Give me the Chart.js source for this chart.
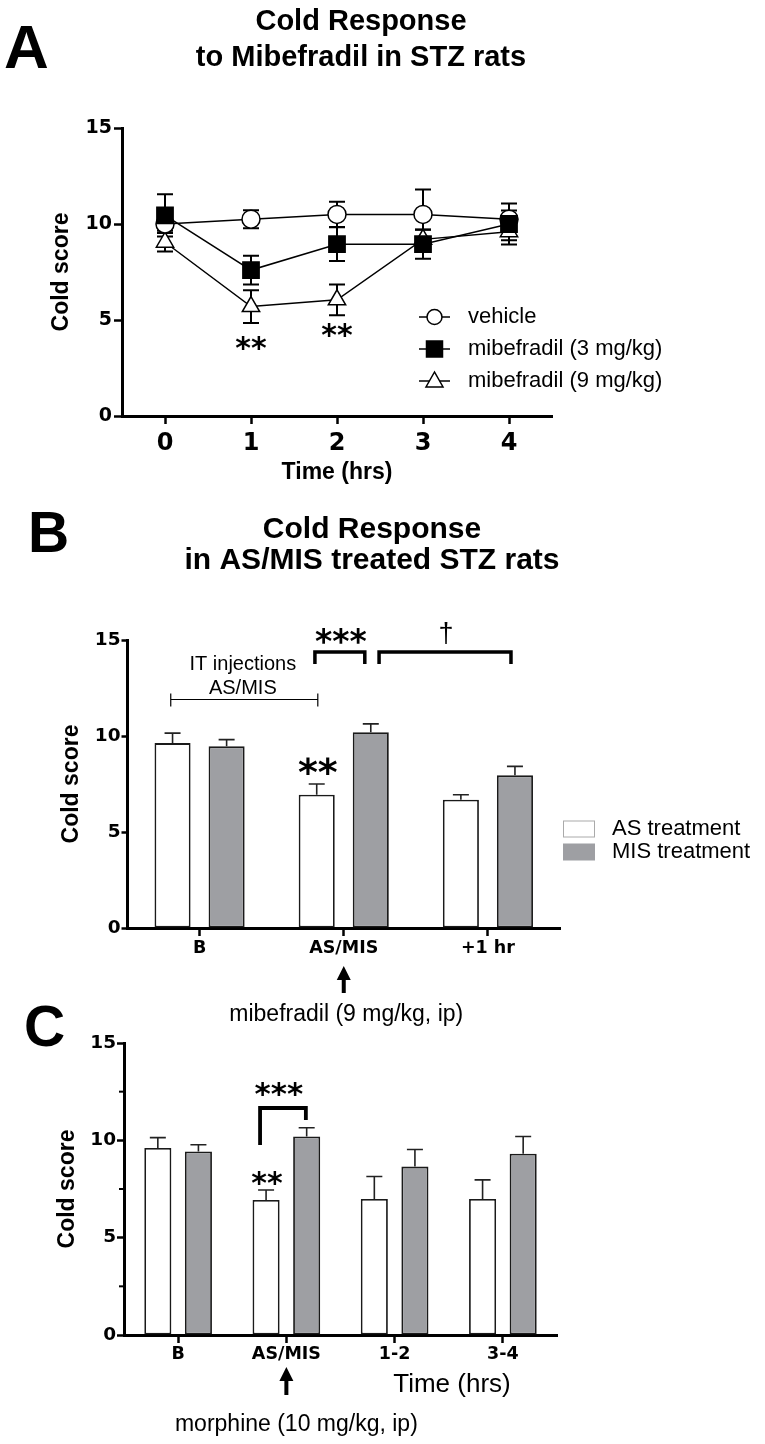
<!DOCTYPE html>
<html>
<head>
<meta charset="utf-8">
<script src="https://cdn.jsdelivr.net/npm/chart.js@4.4.1/dist/chart.umd.min.js"></script>
<style>
  html, body { margin: 0; padding: 0; background: #fff; }
  #wrap { position: relative; width: 765px; height: 1444px; overflow: hidden; }
  #wrap canvas { position: absolute; left: 0; top: 0; }
</style>
</head>
<body>
<div id="wrap">
  <canvas id="cA" width="765" height="1444"></canvas>
  <canvas id="cB" width="765" height="1444"></canvas>
  <canvas id="cC" width="765" height="1444"></canvas>
</div>
<script>
// ---------------- DATA ----------------
// Panel A: cold score over time (mean ± SEM)
const timeHours   = [0, 1, 2, 3, 4];
const vehicleMean = [10.0, 10.25, 10.5, 10.5, 10.25];
const vehicleSem  = [0.35, 0.47, 0.66, 1.3, 0.45];
const mib3Mean    = [10.45, 7.6, 8.95, 8.95, 10.0];
const mib3Sem     = [1.1, 0.75, 0.88, 0.76, 1.07];
const mib9Mean    = [9.05, 5.7, 6.05, 9.2, 9.6];
const mib9Sem     = [0.48, 0.85, 0.8, 0.5, 0.45];
const xTicksA     = [0, 1, 2, 3, 4];
const yTicks      = [0, 5, 10, 15];
const yMinorC     = [2.5, 7.5, 12.5];

// Panel B: AS / MIS treated, mibefradil
const catsB    = ['B', 'AS/MIS', '+1 hr'];
const asMeanB  = [9.63, 6.94, 6.68];
const asSemB   = [0.52, 0.56, 0.26];
const misMeanB = [9.46, 10.2, 7.95];
const misSemB  = [0.35, 0.43, 0.47];

// Panel C: AS / MIS treated, morphine
const catsC    = ['B', 'AS/MIS', '1-2', '3-4'];
const asMeanC  = [9.61, 6.94, 6.99, 6.99];
const asSemC   = [0.53, 0.51, 1.15, 0.98];
const misMeanC = [9.43, 10.2, 8.65, 9.31];
const misSemC  = [0.34, 0.45, 0.88, 0.89];

// ---------------- HELPERS ----------------
const FONT = '"Liberation Sans", Arial, Helvetica, sans-serif';
const TICKFONT = '"DejaVu Sans", "Liberation Sans", sans-serif';
const STARFONT = '"DejaVu Sans", "Liberation Sans", sans-serif';
const GREY = '#9e9fa3';
Chart.defaults.font.family = FONT;
Chart.defaults.color = '#000';

function text(ctx, s, x, y, size, weight, align, baseline, family) {
  ctx.save();
  ctx.font = (weight || 'normal') + ' ' + size + 'px ' + (family || FONT);
  ctx.fillStyle = '#000';
  ctx.textAlign = align || 'center';
  ctx.textBaseline = baseline || 'middle';
  ctx.fillText(s, x, y);
  ctx.restore();
}
// draw text visually centered on (x,y) using ink bounds (for asterisks, daggers)
function inkText(ctx, s, x, y, size, weight, family) {
  ctx.save();
  ctx.font = (weight || 'normal') + ' ' + size + 'px ' + (family || FONT);
  ctx.fillStyle = '#000';
  ctx.textAlign = 'center';
  ctx.textBaseline = 'alphabetic';
  const m = ctx.measureText(s);
  const by = y + (m.actualBoundingBoxAscent - m.actualBoundingBoxDescent) / 2;
  ctx.fillText(s, x, by);
  ctx.restore();
}
function rotText(ctx, s, x, y, size, weight) {
  ctx.save();
  ctx.translate(x, y);
  ctx.rotate(-Math.PI / 2);
  text(ctx, s, 0, 0, size, weight, 'center', 'middle');
  ctx.restore();
}
function arrowUp(ctx, x, tipY, baseY) {
  ctx.save();
  ctx.fillStyle = '#000';
  ctx.strokeStyle = '#000';
  ctx.lineWidth = 4;
  ctx.beginPath();
  ctx.moveTo(x, tipY + 10);
  ctx.lineTo(x, baseY);
  ctx.stroke();
  ctx.beginPath();
  ctx.moveTo(x, tipY);
  ctx.lineTo(x - 7, tipY + 14);
  ctx.lineTo(x + 7, tipY + 14);
  ctx.closePath();
  ctx.fill();
  ctx.restore();
}
function bracket(ctx, x1, x2, yTop, yLeft, yRight, lw) {
  ctx.save();
  ctx.strokeStyle = '#000';
  ctx.lineWidth = lw;
  ctx.lineJoin = 'miter';
  ctx.lineCap = 'butt';
  ctx.beginPath();
  ctx.moveTo(x1, yLeft);
  ctx.lineTo(x1, yTop);
  ctx.lineTo(x2, yTop);
  ctx.lineTo(x2, yRight);
  ctx.stroke();
  ctx.restore();
}

// error bars plugin (uses the library's y scale and element positions)
const errorBars = {
  id: 'errorBars',
  beforeDatasetsDraw(chart, args, opts) { if (opts.layer === 'below') drawErrors(chart, opts); },
  afterDatasetsDraw(chart, args, opts) { if (opts.layer === 'above') drawErrors(chart, opts); }
};
function drawErrors(chart, opts) {
  const ctx = chart.ctx, ys = chart.scales.y;
  ctx.save();
  ctx.strokeStyle = opts.color || '#000';
  ctx.lineWidth = opts.lineWidth || 1.5;
  chart.data.datasets.forEach((ds, i) => {
    const err = opts.errors[i];
    if (!err) return;
    const meta = chart.getDatasetMeta(i);
    meta.data.forEach((el, j) => {
      const raw = ds.data[j];
      const v = (typeof raw === 'object') ? raw.y : raw;
      const x = el.x;
      const yT = ys.getPixelForValue(v + err[j]);
      const yB = opts.both ? ys.getPixelForValue(v - err[j]) : ys.getPixelForValue(v);
      ctx.beginPath();
      ctx.moveTo(x, yB); ctx.lineTo(x, yT);
      ctx.moveTo(x - opts.cap, yT); ctx.lineTo(x + opts.cap, yT);
      if (opts.both) { ctx.moveTo(x - opts.cap, yB); ctx.lineTo(x + opts.cap, yB); }
      ctx.stroke();
    });
  });
  ctx.restore();
}

function axisOpts(tickLen, fontSize, pad, extra) {
  return Object.assign({
    grid: { display: true, drawOnChartArea: false, drawTicks: true, tickLength: tickLen, tickWidth: 2.5, tickColor: '#000', offset: false },
    border: { display: true, color: '#000', width: 3 },
    ticks: { color: '#000', font: { family: TICKFONT, weight: 'bold', size: fontSize }, padding: pad, maxRotation: 0, autoSkip: false }
  }, extra);
}

// ---------------- PANEL A ----------------
const annA = {
  id: 'annA',
  afterDraw(chart) {
    const ctx = chart.ctx, xs = chart.scales.x, ys = chart.scales.y, ca = chart.chartArea;
    text(ctx, 'A', 4, 68, 62, 'bold', 'left', 'alphabetic');
    text(ctx, 'Cold Response', 361, 30, 29, 'bold', 'center', 'alphabetic');
    text(ctx, 'to Mibefradil in STZ rats', 361, 66, 29, 'bold', 'center', 'alphabetic');
    rotText(ctx, 'Cold score', 62, (ca.top + ca.bottom) / 2, 23, 'bold');
    text(ctx, 'Time (hrs)', (ca.left + ca.right) / 2, 473, 23, 'bold');
    // significance
    inkText(ctx, '**', xs.getPixelForValue(1), ys.getPixelForValue(3.8), 30, 'bold', STARFONT);
    inkText(ctx, '**', xs.getPixelForValue(2), ys.getPixelForValue(4.43), 30, 'bold', STARFONT);
    // legend
    const rows = [
      { label: 'vehicle', style: 'circle', fill: '#fff', y: 317 },
      { label: 'mibefradil (3 mg/kg)', style: 'rect', fill: '#000', y: 349 },
      { label: 'mibefradil (9 mg/kg)', style: 'triangle', fill: '#fff', y: 381 }
    ];
    rows.forEach(r => {
      ctx.save();
      ctx.strokeStyle = '#000';
      ctx.lineWidth = 1.5;
      ctx.beginPath(); ctx.moveTo(419, r.y); ctx.lineTo(450, r.y); ctx.stroke();
      ctx.fillStyle = r.fill;
      const cx = 434.5;
      ctx.beginPath();
      if (r.style === 'circle') ctx.arc(cx, r.y, 7.5, 0, Math.PI * 2);
      else if (r.style === 'rect') ctx.rect(cx - 8, r.y - 8, 16, 16);
      else { ctx.moveTo(cx, r.y - 9); ctx.lineTo(cx - 8.5, r.y + 6); ctx.lineTo(cx + 8.5, r.y + 6); ctx.closePath(); }
      ctx.fill(); ctx.stroke();
      ctx.restore();
      text(ctx, r.label, 468, r.y, 22, 'normal', 'left', 'middle');
    });
  }
};

const ptsA = arr => timeHours.map((t, i) => ({ x: t, y: arr[i] }));
new Chart(document.getElementById('cA'), {
  type: 'line',
  data: {
    datasets: [
      { label: 'mibefradil (3 mg/kg)', data: ptsA(mib3Mean), order: 0, borderColor: '#000', borderWidth: 1.5,
        pointStyle: 'rect', pointRadius: 11.5, pointBackgroundColor: '#000', pointBorderColor: '#000', pointBorderWidth: 1.5, tension: 0, fill: false },
      { label: 'vehicle', data: ptsA(vehicleMean), order: 1, borderColor: '#000', borderWidth: 1.5,
        pointStyle: 'circle', pointRadius: 9, pointBackgroundColor: '#fff', pointBorderColor: '#000', pointBorderWidth: 1.5, tension: 0, fill: false },
      { label: 'mibefradil (9 mg/kg)', data: ptsA(mib9Mean), order: 2, borderColor: '#000', borderWidth: 1.5,
        pointStyle: 'triangle', pointRadius: 10, pointBackgroundColor: '#fff', pointBorderColor: '#000', pointBorderWidth: 1.5, tension: 0, fill: false }
    ]
  },
  options: {
    responsive: false, animation: false, events: [],
    layout: { padding: { left: 62, right: 213, top: 128, bottom: 988 } },
    plugins: {
      legend: { display: false }, tooltip: { enabled: false },
      errorBars: { layer: 'below', errors: [mib3Sem, vehicleSem, mib9Sem], both: true, cap: 8, lineWidth: 2 }
    },
    scales: {
      x: axisOpts(8, 24, 5.5, {
        type: 'linear', min: -0.5, max: 4.5,
        afterBuildTicks: s => { s.ticks = xTicksA.map(v => ({ value: v })); },
        afterFit: s => { s.height = 40; }
      }),
      y: axisOpts(8, 19, 2, {
        min: 0, max: 15,
        afterBuildTicks: s => { s.ticks = yTicks.map(v => ({ value: v })); },
        afterFit: s => { s.width = 60; }
      })
    }
  },
  plugins: [errorBars, annA]
});

// ---------------- BAR PANELS ----------------
function barChart(id, cats, asMean, misMean, asSem, misSem, pad, tickLenY, xPad, ann) {
  return new Chart(document.getElementById(id), {
    type: 'bar',
    data: {
      labels: cats,
      datasets: [
        { label: 'AS treatment', data: asMean, backgroundColor: '#fff', borderColor: '#1a1a1a', borderWidth: 1.8,
          borderSkipped: false, categoryPercentage: 0.75, barPercentage: 0.667 },
        { label: 'MIS treatment', data: misMean, backgroundColor: GREY, borderColor: '#1a1a1a', borderWidth: 1.8,
          borderSkipped: false, categoryPercentage: 0.75, barPercentage: 0.667 }
      ]
    },
    options: {
      responsive: false, animation: false, events: [],
      layout: { padding: pad },
      plugins: {
        legend: { display: false }, tooltip: { enabled: false },
        errorBars: { layer: 'above', errors: [asSem, misSem], both: false, cap: 8, lineWidth: 1.6, color: '#222' }
      },
      scales: {
        x: axisOpts(8, 17.5, xPad, { type: 'category', offset: true, afterFit: s => { s.height = 40; } }),
        y: axisOpts(tickLenY, 18.5, 1, {
          min: 0, max: 15,
          afterBuildTicks: s => { s.ticks = yTicks.map(v => ({ value: v })); },
          afterFit: s => { s.width = 60; }
        })
      }
    },
    plugins: [errorBars, ann]
  });
}

const annB = {
  id: 'annB',
  afterDraw(chart) {
    const ctx = chart.ctx, xs = chart.scales.x, ys = chart.scales.y, ca = chart.chartArea;
    const X = v => xs.getPixelForValue(v), Y = v => ys.getPixelForValue(v);
    text(ctx, 'B', 28, 552, 57, 'bold', 'left', 'alphabetic');
    text(ctx, 'Cold Response', 372, 538, 30, 'bold', 'center', 'alphabetic');
    text(ctx, 'in AS/MIS treated STZ rats', 372, 569, 30, 'bold', 'center', 'alphabetic');
    rotText(ctx, 'Cold score', 72, (ca.top + ca.bottom) / 2, 23, 'bold');
    // IT injections interval
    ctx.save();
    ctx.strokeStyle = '#000'; ctx.lineWidth = 1.2;
    ctx.beginPath();
    ctx.moveTo(X(-0.2), Y(11.9)); ctx.lineTo(X(0.82), Y(11.9));
    ctx.moveTo(X(-0.2), Y(11.9) - 6); ctx.lineTo(X(-0.2), Y(11.9) + 7);
    ctx.moveTo(X(0.82), Y(11.9) - 6); ctx.lineTo(X(0.82), Y(11.9) + 7);
    ctx.stroke();
    ctx.restore();
    text(ctx, 'IT injections', X(0.3), Y(13.7), 20, 'normal');
    text(ctx, 'AS/MIS', X(0.3), Y(12.5), 20, 'normal');
    // brackets
    bracket(ctx, X(0.8), X(1.146), Y(14.375), Y(13.75), Y(13.75), 3.5);
    bracket(ctx, X(1.245), X(2.16), Y(14.375), Y(13.75), Y(13.75), 3.5);
    inkText(ctx, '***', X(0.98), Y(15.19), 33, 'bold', STARFONT);
    inkText(ctx, '\u2020', X(1.71), Y(15.36), 27, 'normal');
    inkText(ctx, '**', X(0.82), Y(8.42), 38, 'bold', STARFONT);
    // arrow + treatment note
    arrowUp(ctx, X(1), ca.bottom + 38, ca.bottom + 65);
    text(ctx, 'mibefradil (9 mg/kg, ip)', X(1) + 2.5, ca.bottom + 87, 23, 'normal');
    // legend
    ctx.save();
    ctx.fillStyle = '#fff'; ctx.strokeStyle = '#aaa'; ctx.lineWidth = 1;
    ctx.fillRect(563.5, 821, 31, 16); ctx.strokeRect(563.5, 821, 31, 16);
    ctx.fillStyle = GREY;
    ctx.fillRect(563, 843.5, 32, 17);
    ctx.restore();
    text(ctx, 'AS treatment', 612, 829, 22, 'normal', 'left');
    text(ctx, 'MIS treatment', 612, 852, 22, 'normal', 'left');
  }
};

const annC = {
  id: 'annC',
  afterDraw(chart) {
    const ctx = chart.ctx, xs = chart.scales.x, ys = chart.scales.y, ca = chart.chartArea;
    const X = v => xs.getPixelForValue(v), Y = v => ys.getPixelForValue(v);
    text(ctx, 'C', 24, 1046, 57, 'bold', 'left', 'alphabetic');
    rotText(ctx, 'Cold score', 68, (ca.top + ca.bottom) / 2, 23, 'bold');
    // minor y ticks
    ctx.save();
    ctx.strokeStyle = '#000'; ctx.lineWidth = 2;
    yMinorC.forEach(v => {
      ctx.beginPath(); ctx.moveTo(ca.left - 5, Y(v)); ctx.lineTo(ca.left, Y(v)); ctx.stroke();
    });
    ctx.restore();
    bracket(ctx, X(0.757), X(1.18), Y(11.66), Y(9.76), Y(11.04), 3.8);
    inkText(ctx, '***', X(0.93), Y(12.62), 31, 'bold', STARFONT);
    inkText(ctx, '**', X(0.82), Y(8.05), 30, 'bold', STARFONT);
    arrowUp(ctx, X(1), ca.bottom + 32, ca.bottom + 60);
    text(ctx, 'Time (hrs)', 452, ca.bottom + 50, 26, 'normal');
    text(ctx, 'morphine (10 mg/kg, ip)', X(1) + 10, ca.bottom + 90, 23, 'normal');
  }
};

barChart('cB', catsB, asMeanB, misMeanB, asSemB, misSemB,
  { left: 67.5, right: 205, top: 640, bottom: 476 }, 6, 1.8, annB);
barChart('cC', catsC, asMeanC, misMeanC, asSemC, misSemC,
  { left: 64, right: 208, top: 1043, bottom: 69 }, 7, 0.5, annC);
</script>
</body>
</html>
